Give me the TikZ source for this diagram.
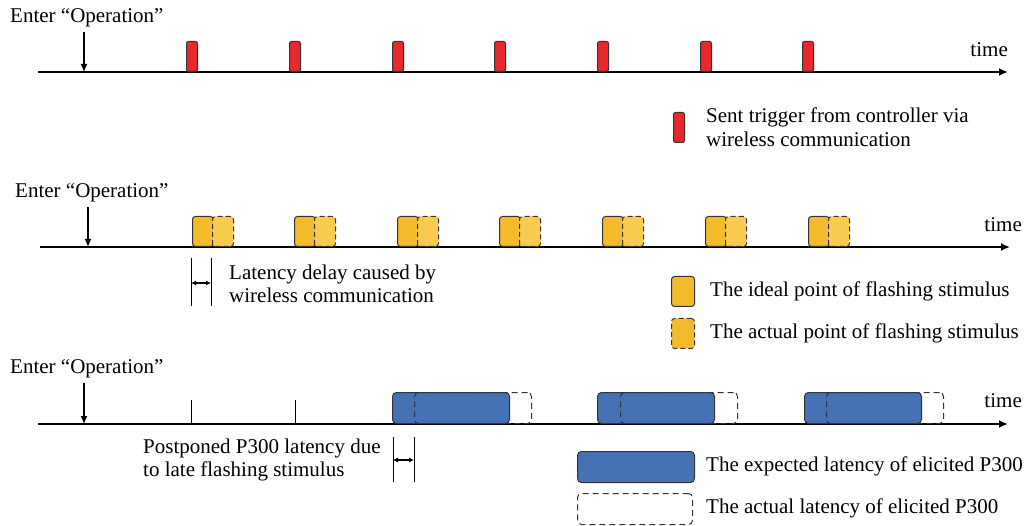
\documentclass[tikz,border=0pt]{standalone}
\usepackage{fontspec}
\setmainfont{Liberation Serif}
\usetikzlibrary{arrows, arrows.meta, shapes, positioning}

\definecolor{trigred}{HTML}{E8282B}
\definecolor{idealyel}{HTML}{F3BA2B}
\definecolor{actyel}{HTML}{F6CB50}
\definecolor{p3blue}{HTML}{4671B5}
\definecolor{edgegray}{HTML}{333333}

\tikzset{
    trig/.style={draw=edgegray, fill=trigred, line width=1pt, rounded corners=2pt, minimum width=11pt, minimum height=30pt, inner sep=0pt, anchor=south},
    ideal/.style={draw=edgegray, fill=idealyel, line width=1pt, rounded corners=3pt, minimum width=21pt, minimum height=30pt, inner sep=0pt, anchor=south west},
    actual/.style={draw=edgegray, fill=actyel, line width=1pt, dash pattern=on 5pt off 3pt, rounded corners=3pt, minimum width=21pt, minimum height=30pt, inner sep=0pt, anchor=south west},
    expct/.style={draw=edgegray, fill=p3blue, line width=1pt, rounded corners=4pt, minimum width=117pt, minimum height=31pt, inner sep=0pt, anchor=south west},
    actlat/.style={draw=edgegray, line width=1pt, dash pattern=on 6pt off 4pt, rounded corners=4pt, minimum width=117pt, minimum height=31pt, inner sep=0pt, anchor=south west},
    timeaxis/.style={line width=1.8pt, -{Latex[length=9pt, width=8pt]}},
    enterarr/.style={line width=1.3pt, -{Latex[length=8pt, width=7pt]}},
    gaparr/.style={line width=1.3pt, {Latex[length=5pt, width=5pt]}-{Latex[length=5pt, width=5pt]}},
    lbl/.style={inner sep=0pt, align=left, font=\fontsize{21}{23.5}\selectfont}
}

\begin{document}
\begin{tikzpicture}[x=1pt, y=-1pt]

        \useasboundingbox (0,0) rectangle (1025,526);

        % Row 1: triggers
        \coordinate (ax1s) at (38,72);
        \coordinate (ax1e) at (1008,72);
        \draw[timeaxis] (ax1s) -- (ax1e);
        \node[lbl, anchor=base east] (time1) at (1008,57) {time};
        \node[lbl, anchor=west] (enter1) at (10,18) {Enter “Operation”};
        \coordinate (in1) at (84,72);
        \draw[enterarr] ([yshift=-5pt]enter1.south -| in1) -- (in1);
        \node[trig] (trg1) at (192,72) {};
        \node[trig] (trg2) at (295,72) {};
        \node[trig] (trg3) at (398,72) {};
        \node[trig] (trg4) at (500,72) {};
        \node[trig] (trg5) at (603,72) {};
        \node[trig] (trg6) at (706,72) {};
        \node[trig] (trg7) at (808,72) {};

        % Legend 1
        \node[trig, anchor=north west] (legtrg) at (673,112) {};
        \node[lbl, anchor=west] (legtrgtxt) at (706,127) {Sent trigger from controller via\\wireless communication};

        % Row 2: flashing stimulus
        \coordinate (ax2s) at (40,247);
        \coordinate (ax2e) at (1010,247);
        \draw[timeaxis] (ax2s) -- (ax2e);
        \node[lbl, anchor=base east] (time2) at (1022,232) {time};
        \node[lbl, anchor=west] (enter2) at (15,193) {Enter “Operation”};
        \coordinate (in2) at (88,247);
        \draw[enterarr] ([yshift=-5pt]enter2.south -| in2) -- (in2);
        \node[ideal] (idl1) at (192,247) {};
        \node[actual] (act1) at (212,247) {};
        \node[ideal] (idl2) at (294,247) {};
        \node[actual] (act2) at (314,247) {};
        \node[ideal] (idl3) at (397,247) {};
        \node[actual] (act3) at (417,247) {};
        \node[ideal] (idl4) at (499,247) {};
        \node[actual] (act4) at (519,247) {};
        \node[ideal] (idl5) at (602,247) {};
        \node[actual] (act5) at (622,247) {};
        \node[ideal] (idl6) at (705,247) {};
        \node[actual] (act6) at (725,247) {};
        \node[ideal] (idl7) at (808,247) {};
        \node[actual] (act7) at (828,247) {};

        % Latency delay
        \draw[line width=0.8pt] (191,258) -- (191,306);
        \draw[line width=0.8pt] (211,258) -- (211,306);
        \coordinate (dl1) at (191,283);
        \coordinate (dr1) at (211,283);
        \draw[gaparr] (dl1) -- (dr1);
        \node[lbl, anchor=west] (delaytxt) at (229,284) {Latency delay caused by\\wireless communication};

        % Legend 2
        \node[ideal, anchor=north west, minimum width=23pt] (legidl) at (671,276) {};
        \node[lbl, anchor=west] (legidltxt) at (710,291) {The ideal point of flashing stimulus};
        \node[actual, fill=idealyel, anchor=north west, minimum width=23pt] (legact) at (671,318) {};
        \node[lbl, anchor=west] (legacttxt) at (710,333) {The actual point of flashing stimulus};

        % Row 3: P300 latency
        \coordinate (ax3s) at (38,424);
        \coordinate (ax3e) at (1008,424);
        \draw[timeaxis] (ax3s) -- (ax3e);
        \node[lbl, anchor=base east] (time3) at (1022,407) {time};
        \node[lbl, anchor=west] (enter3) at (10,369) {Enter “Operation”};
        \coordinate (in3) at (84,424);
        \draw[enterarr] ([yshift=-5pt]enter3.south -| in3) -- (in3);
        \draw[line width=0.8pt] (191,400) -- (191,424);
        \draw[line width=0.8pt] (295,400) -- (295,424);
        \node[expct] (exp1) at (392,424) {};
        \node[actlat] (alt1) at (414,424) {};
        \node[expct] (exp2) at (597,424) {};
        \node[actlat] (alt2) at (620,424) {};
        \node[expct] (exp3) at (804,424) {};
        \node[actlat] (alt3) at (826,424) {};

        % Postponed latency
        \draw[line width=0.8pt] (393,437) -- (393,482);
        \draw[line width=0.8pt] (414,437) -- (414,482);
        \coordinate (dl2) at (393,460);
        \coordinate (dr2) at (414,460);
        \draw[gaparr] (dl2) -- (dr2);
        \node[lbl, anchor=west] (posttxt) at (143,460) {Postponed P300 latency due\\to late flashing stimulus};

        % Legend 3
        \node[expct, anchor=north west] (legexp) at (577,451) {};
        \node[lbl, anchor=west] (legexptxt) at (706,466) {The expected latency of elicited P300};
        \node[actlat, anchor=north west, minimum width=115pt] (legalt) at (577,493) {};
        \node[lbl, anchor=west] (legalttxt) at (706,508) {The actual latency of elicited P300};

    \end{tikzpicture}
\end{document}
